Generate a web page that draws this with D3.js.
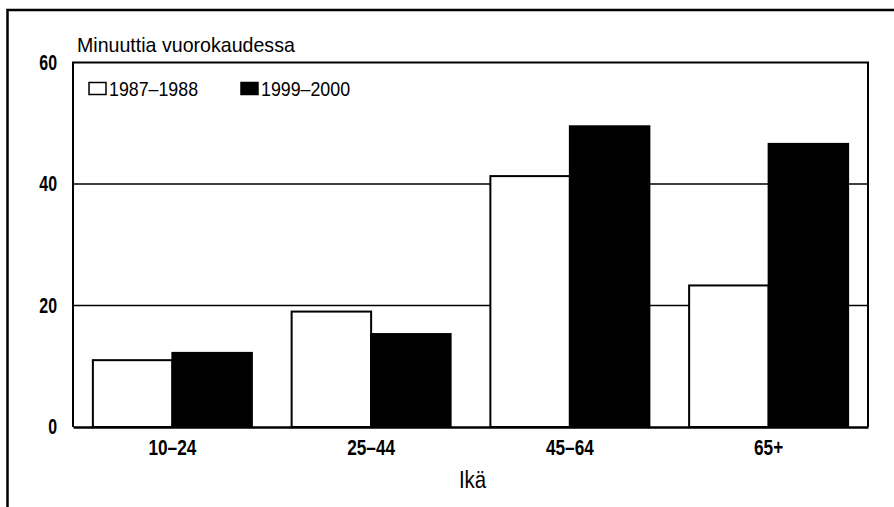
<!DOCTYPE html>
<html><head><meta charset="utf-8">
<script src="https://cdn.jsdelivr.net/npm/d3@7"></script>
<style>
html,body{margin:0;padding:0;background:#fff;}
svg{display:block;}
text{font-family:"Liberation Sans",Arial,sans-serif;fill:#000;}
</style></head>
<body>
<svg id="chart" width="894" height="507"></svg>
<script>
const categories = ["10–24", "25–44", "45–64", "65+"];
const seriesNames = ["1987–1988", "1999–2000"];
const values1987 = [11, 19, 41.3, 23.3];
const values1999 = [12.2, 15.3, 49.5, 46.6];
const yTicks = [0, 20, 40, 60];
const yTitle = "Minuuttia vuorokaudessa";
const xTitle = "Ikä";

const svg = d3.select("#chart");
const W = 894, H = 507;
const m = {left: 73, right: 868, top: 62.5, bottom: 427};
const FONT = "'Liberation Sans',Arial,sans-serif";

// horizontally condense text around its anchor x
function condense(sel, sx) {
  sel.each(function() {
    const t = d3.select(this);
    const x0 = +t.attr("x") || 0;
    t.attr("transform", `translate(${x0},0) scale(${sx},1) translate(${-x0},0)`);
  });
}

// outer frame (cropped box)
svg.append("path").attr("d", `M7.5,${H} V10 H${W}`)
  .attr("fill", "none").attr("stroke", "#000").attr("stroke-width", 2.5);

const x = d3.scaleBand().domain(categories).range([m.left, m.right]).paddingInner(0.2).paddingOuter(0.1);
const xs = d3.scaleBand().domain(seriesNames).range([0, x.bandwidth()]);
const y = d3.scaleLinear().domain([0, 60]).range([m.bottom, m.top]);

// gridlines
svg.append("g").selectAll("line").data(yTicks.filter(t => t > 0 && t < 60)).join("line")
  .attr("x1", m.left).attr("x2", m.right)
  .attr("y1", d => y(d)).attr("y2", d => y(d))
  .attr("stroke", "#000").attr("stroke-width", 1.5);

// bars
const rows = categories.map((c, i) => ({c, vals: [values1987[i], values1999[i]]}));
const g = svg.append("g");
rows.forEach(r => {
  r.vals.forEach((v, j) => {
    g.append("rect")
      .attr("x", x(r.c) + xs(seriesNames[j]))
      .attr("y", y(v))
      .attr("width", xs.bandwidth())
      .attr("height", y(0) - y(v))
      .attr("fill", j === 0 ? "#fff" : "#000")
      .attr("stroke", "#000").attr("stroke-width", 2);
  });
});

// plot frame
svg.append("path").attr("d", `M${m.left},${m.bottom} V${m.top} H${m.right} V${m.bottom}`)
  .attr("fill", "none").attr("stroke", "#000").attr("stroke-width", 2);

// axes
const yAxis = d3.axisLeft(y).tickValues(yTicks).tickSize(0).tickPadding(16).tickFormat(d3.format("d"));
const ya = svg.append("g").attr("transform", `translate(${m.left},0)`).call(yAxis);
ya.select(".domain").remove();
ya.selectAll("text").attr("font-size", 21.5).attr("font-weight", "bold").style("font-family", FONT)
  .call(condense, 0.74);

const xAxis = d3.axisBottom(x).tickSize(0).tickPadding(13);
const xa = svg.append("g").attr("transform", `translate(0,${m.bottom})`).call(xAxis);
xa.select(".domain").attr("stroke", "#000").attr("stroke-width", 2.5);
xa.selectAll("text").attr("font-size", 21.5).attr("font-weight", "bold").style("font-family", FONT)
  .call(condense, 0.8);

// titles
svg.append("text").attr("x", 77).attr("y", 52.5).attr("font-size", 20).text(yTitle).call(condense, 0.98);
svg.append("text").attr("x", (m.left + m.right) / 2 + 2).attr("y", 488.5)
  .attr("text-anchor", "middle").attr("font-size", 24).text(xTitle).call(condense, 0.85);

// legend
const legX = [89, 241];
seriesNames.forEach((s, i) => {
  svg.append("rect").attr("x", legX[i]).attr("y", 82.5).attr("width", 17).attr("height", 12)
    .attr("fill", i === 0 ? "#fff" : "#000").attr("stroke", "#000").attr("stroke-width", 1.5);
  svg.append("text").attr("x", legX[i] + 20).attr("y", 96).attr("font-size", 20).text(s).call(condense, 0.89);
});
</script>
</body></html>
